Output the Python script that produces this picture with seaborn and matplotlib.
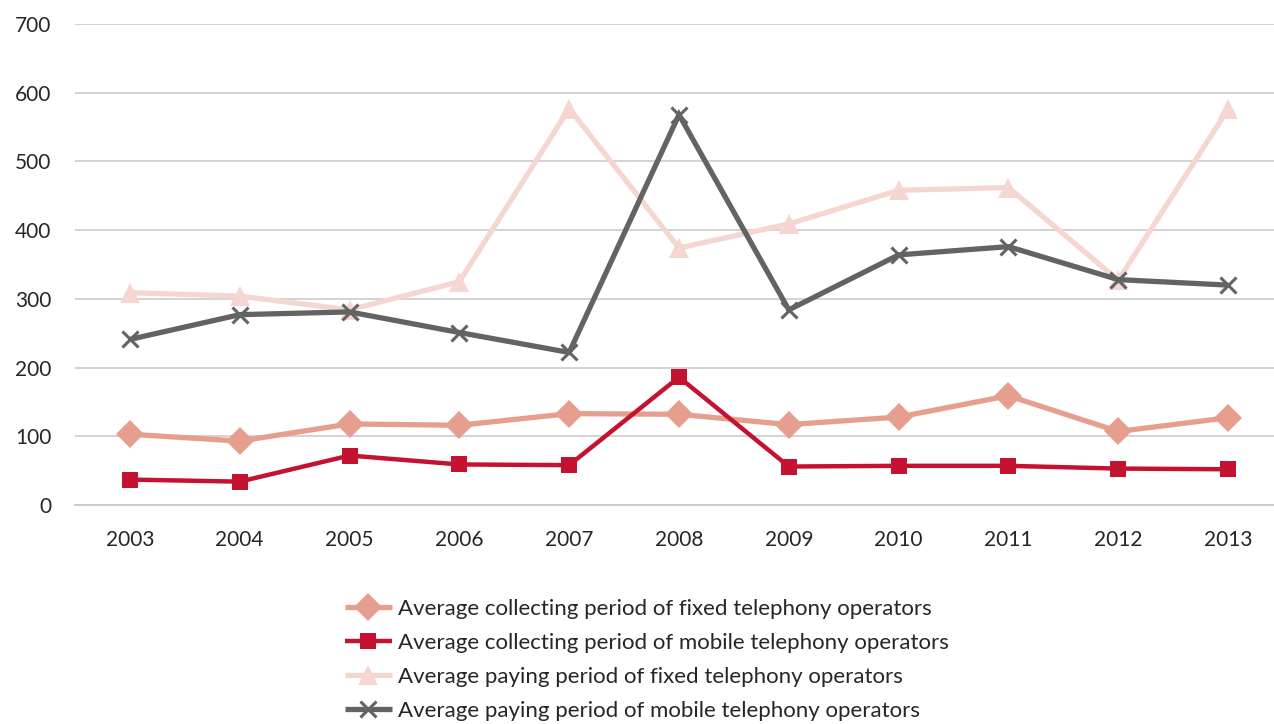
import matplotlib
matplotlib.use("Agg")
import matplotlib.pyplot as plt
import seaborn as sns
import pandas as pd

years = ["2003", "2004", "2005", "2006", "2007", "2008", "2009", "2010", "2011", "2012", "2013"]
fixed_collecting = [103, 93, 118, 116, 133, 132, 117, 128, 159, 107, 127]
mobile_collecting = [37, 34, 72, 59, 58, 186, 56, 57, 57, 53, 52]
fixed_paying = [309, 304, 284, 325, 577, 374, 409, 458, 462, 327, 576]
mobile_paying = [241, 277, 281, 251, 222, 568, 284, 364, 376, 328, 320]

labels = [
    "Average collecting period of fixed telephony operators",
    "Average collecting period of mobile telephony operators",
    "Average paying period of fixed telephony operators",
    "Average paying period of mobile telephony operators",
]
y_ticks = [0, 100, 200, 300, 400, 500, 600, 700]

sns.set_theme(style="white")
plt.rcParams["font.family"] = ["Lato", "DejaVu Sans"]

fig = plt.figure(figsize=(12.74, 7.24), dpi=100)
ax = fig.add_axes([75 / 1274, 1 - 505 / 724, (1283 - 75) / 1274, (505 - 24) / 724])

series = [
    (fixed_collecting, "#E69E8E", "D", 14, 3.8, 0),
    (mobile_collecting, "#C41230", "s", 12, 3.2, 0),
    (fixed_paying, "#F5D6D0", "^", 15, 3.8, 0),
    (mobile_paying, "#636363", "x", 12, 3.8, 2.2),
]

x = list(range(len(years)))
for (vals, color, marker, ms, lw, mew), lab in zip(series, labels):
    df = pd.DataFrame({"x": x, "y": vals})
    sns.lineplot(
        data=df, x="x", y="y", ax=ax, color=color, linewidth=lw,
        marker=marker, markersize=ms, markeredgewidth=mew,
        markeredgecolor=color, markerfacecolor=color, label=lab,
        solid_joinstyle="miter", solid_capstyle="butt", zorder=3,
    )

ax.set_xlim(-0.5, len(years) - 0.5)
ax.set_ylim(0, 700)
ax.set_yticks(y_ticks)
ax.set_yticklabels([str(v) for v in y_ticks], fontsize=15, color="#262626")
ax.set_xticks(x)
ax.set_xticklabels(years, fontsize=15, color="#262626")
ax.set_xticks([i - 0.5 for i in range(len(years) + 1)], minor=True)
ax.tick_params(axis="x", which="major", length=0, pad=18)
ax.tick_params(axis="x", which="minor", length=8, width=1.2, color="#C8C8C8", direction="out")
ax.tick_params(axis="y", length=0, pad=17)
ax.set_xlabel("")
ax.set_ylabel("")

ax.yaxis.grid(True, color="#D0D0D0", linewidth=1.3)
ax.xaxis.grid(False)
for side in ["top", "right", "left"]:
    ax.spines[side].set_visible(False)
ax.spines["bottom"].set_color("#C8C8C8")
ax.spines["bottom"].set_linewidth(1.3)

ax.get_legend().remove()
handles, leg_labels = ax.get_legend_handles_labels()
fig.legend(
    handles, leg_labels, loc="upper left", bbox_to_anchor=(345 / 1274, 1 - 599 / 724),
    frameon=False, fontsize=16, handlelength=2.1, handletextpad=0.3,
    labelspacing=0.63, borderaxespad=0, borderpad=0, labelcolor="#262626",
)

fig.savefig("out.png", dpi=100)
